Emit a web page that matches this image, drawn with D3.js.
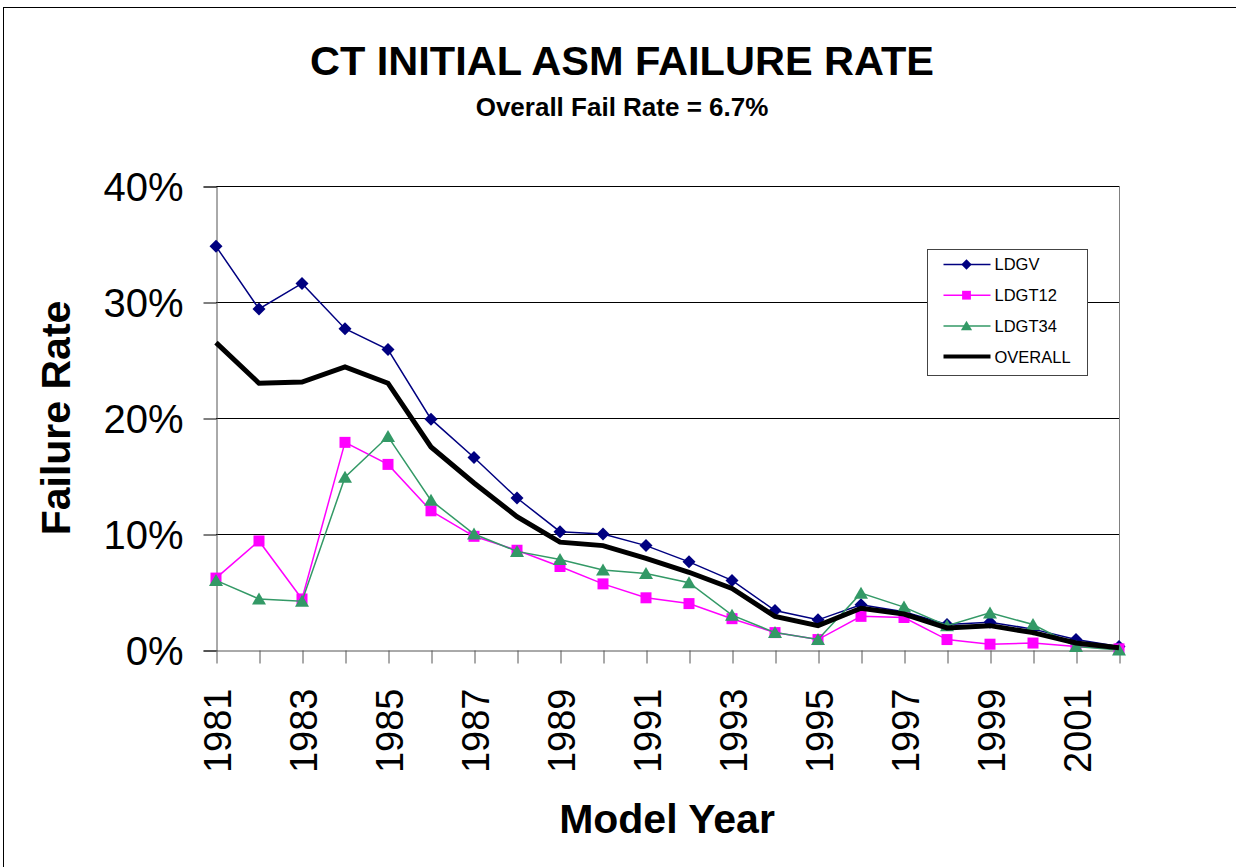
<!DOCTYPE html>
<html>
<head>
<meta charset="utf-8">
<script src="https://cdn.jsdelivr.net/npm/d3@7"></script>
<style>
  body { margin: 0; background: #fff; }
  text { font-family: "Liberation Sans", Arial, sans-serif; }
</style>
</head>
<body>
<div id="chart"></div>
<script>
// model years and failure rates (fractions)
var years = [1981, 1982, 1983, 1984, 1985, 1986, 1987, 1988, 1989, 1990, 1991,
             1992, 1993, 1994, 1995, 1996, 1997, 1998, 1999, 2000, 2001, 2002];

var ldgv = [0.348, 0.294, 0.316, 0.277, 0.259, 0.199, 0.166, 0.131, 0.102, 0.100, 0.090,
            0.076, 0.060, 0.034, 0.026, 0.039, 0.033, 0.022, 0.024, 0.018, 0.009, 0.003];
var ldgt12 = [0.062, 0.094, 0.044, 0.179, 0.160, 0.120, 0.098, 0.086, 0.072, 0.057, 0.045,
              0.040, 0.027, 0.015, 0.009, 0.029, 0.028, 0.009, 0.005, 0.006, 0.003, 0.001];
var ldgt34 = [0.060, 0.044, 0.042, 0.149, 0.184, 0.129, 0.100, 0.085, 0.078, 0.069, 0.066,
              0.058, 0.030, 0.015, 0.009, 0.049, 0.037, 0.021, 0.032, 0.022, 0.003, 0.000];
var overall = [0.265, 0.230, 0.231, 0.244, 0.230, 0.175, 0.144, 0.115, 0.093, 0.090, 0.079,
               0.067, 0.053, 0.029, 0.021, 0.036, 0.031, 0.019, 0.021, 0.015, 0.006, 0.002];

var yTicks = [0, 0.1, 0.2, 0.3, 0.4];
var seriesNames = ["LDGV", "LDGT12", "LDGT34", "OVERALL"];

var svgWidth = 1236;
var svgHeight = 867;

var svg = d3.select("#chart")
  .append("svg")
  .attr("width", svgWidth)
  .attr("height", svgHeight);

// outer frame
svg.append("rect")
  .attr("x", 3.5)
  .attr("y", 7.5)
  .attr("width", 1240)
  .attr("height", 880)
  .attr("fill", "none")
  .attr("stroke", "#000")
  .attr("stroke-width", 1);

// scales
var x = d3.scalePoint()
  .domain(years)
  .range([216, 1119]);

var y = d3.scaleLinear()
  .domain([0, 0.4])
  .range([650, 186]);

// gridlines
svg.append("g")
  .selectAll("line")
  .data(yTicks.slice(1))
  .enter()
  .append("line")
  .attr("x1", 216)
  .attr("x2", 1119)
  .attr("y1", d => Math.round(y(d)) + 0.5)
  .attr("y2", d => Math.round(y(d)) + 0.5)
  .attr("stroke", "#000")
  .attr("stroke-width", 1);

// right border of plot area
svg.append("line")
  .attr("x1", 1119.5).attr("x2", 1119.5)
  .attr("y1", 186).attr("y2", 650)
  .attr("stroke", "#808080");

// y axis
var yAxis = d3.axisLeft(y)
  .tickValues(yTicks)
  .tickFormat(d3.format(".0%"))
  .tickSize(13)
  .tickPadding(20);

var yG = svg.append("g")
  .attr("transform", "translate(216.5, 0.5)")
  .call(yAxis);
yG.select(".domain").attr("stroke", "#555");
yG.selectAll(".tick line").attr("stroke", "#000");
yG.selectAll(".tick text")
  .attr("font-size", "40px")
  .attr("fill", "#000")
  .attr("font-family", "Liberation Sans, Arial, sans-serif")
  .attr("dy", "0.36em");

// x axis
var xAxis = d3.axisBottom(x)
  .tickSize(13)
  .tickSizeOuter(0)
  .tickFormat(d => (d % 2 === 1 ? String(d) : ""));

var xG = svg.append("g")
  .attr("transform", "translate(0.5, 650.5)")
  .call(xAxis);
xG.select(".domain").attr("stroke", "#555");
xG.selectAll(".tick line").attr("stroke", "#555");
xG.selectAll(".tick text")
  .attr("font-size", "38px")
  .attr("fill", "#000")
  .attr("font-family", "Liberation Sans, Arial, sans-serif")
  .attr("text-anchor", "end")
  .attr("transform", "translate(0, 38) rotate(-90)")
  .attr("x", 0)
  .attr("y", 0)
  .attr("dy", "0.36em");

// series drawing
var line = d3.line()
  .x((d, i) => x(years[i]))
  .y(d => y(d));

var series = [
  { name: "LDGV", values: ldgv, color: "#000080", width: 1.5, marker: "diamond" },
  { name: "LDGT12", values: ldgt12, color: "#FF00FF", width: 1.5, marker: "square" },
  { name: "LDGT34", values: ldgt34, color: "#339966", width: 1.5, marker: "triangle" },
  { name: "OVERALL", values: overall, color: "#000000", width: 5, marker: "none" }
];

function markerPath(type) {
  if (type === "diamond") return "M0,-6.5L6.5,0L0,6.5L-6.5,0Z";
  if (type === "square") return "M-5.5,-5.5H5.5V5.5H-5.5Z";
  if (type === "triangle") return "M0,-6.5L7,5.5H-7Z";
  return null;
}

series.forEach(function(s) {
  var g = svg.append("g");
  g.append("path")
    .datum(s.values)
    .attr("d", line)
    .attr("fill", "none")
    .attr("stroke", s.color)
    .attr("stroke-width", s.width)
    .attr("stroke-linejoin", "miter");

  if (s.marker !== "none") {
    g.selectAll("path.mk")
      .data(s.values)
      .enter()
      .append("path")
      .attr("class", "mk")
      .attr("d", markerPath(s.marker))
      .attr("transform", (d, i) => `translate(${x(years[i])}, ${y(d)})`)
      .attr("fill", s.color);
  }
});

// legend
var legend = svg.append("g")
  .attr("transform", "translate(927.5, 249.5)");

legend.append("rect")
  .attr("width", 160)
  .attr("height", 126)
  .attr("fill", "#fff")
  .attr("stroke", "#444")
  .attr("stroke-width", 1);

series.forEach(function(s, i) {
  var ly = 15 + i * 30.7;
  legend.append("line")
    .attr("x1", 16).attr("x2", 63)
    .attr("y1", ly).attr("y2", ly)
    .attr("stroke", s.color)
    .attr("stroke-width", s.width === 5 ? 4 : 1.5);
  if (s.marker !== "none") {
    legend.append("path")
      .attr("d", markerPath(s.marker))
      .attr("transform", `translate(39, ${ly}) scale(0.8)`)
      .attr("fill", s.color);
  }
  legend.append("text")
    .attr("x", 67)
    .attr("y", ly)
    .attr("dy", "0.36em")
    .attr("font-size", "16.5px")
    .attr("fill", "#000")
    .text(s.name);
});

// titles
svg.append("text")
  .attr("x", 622)
  .attr("y", 75)
  .attr("text-anchor", "middle")
  .attr("font-size", "41.5px")
  .attr("font-weight", "bold")
  .text("CT INITIAL ASM FAILURE RATE");

svg.append("text")
  .attr("x", 622)
  .attr("y", 116)
  .attr("text-anchor", "middle")
  .attr("font-size", "26px")
  .attr("font-weight", "bold")
  .text("Overall Fail Rate = 6.7%");

svg.append("text")
  .attr("transform", "translate(70, 418) rotate(-90)")
  .attr("text-anchor", "middle")
  .attr("font-size", "41px")
  .attr("font-weight", "bold")
  .text("Failure Rate");

svg.append("text")
  .attr("x", 667)
  .attr("y", 833)
  .attr("text-anchor", "middle")
  .attr("font-size", "41px")
  .attr("font-weight", "bold")
  .text("Model Year");
</script>
</body>
</html>
